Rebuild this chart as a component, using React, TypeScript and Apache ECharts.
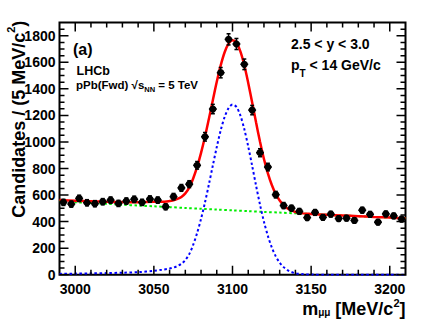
import React, { useEffect, useRef } from 'react';
import * as echarts from 'echarts';

// ---- data ----
const binCenters = [
  2992.5, 2997.5, 3002.5, 3007.5, 3012.5, 3017.5, 3022.5, 3027.5, 3032.5, 3037.5,
  3042.5, 3047.5, 3052.5, 3057.5, 3062.5, 3067.5, 3072.5, 3077.5, 3082.5, 3087.5,
  3092.5, 3097.5, 3102.5, 3107.5, 3112.5, 3117.5, 3122.5, 3127.5, 3132.5, 3137.5,
  3142.5, 3147.5, 3152.5, 3157.5, 3162.5, 3167.5, 3172.5, 3177.5, 3182.5, 3187.5,
  3192.5, 3197.5, 3202.5, 3207.5,
];
const candidates = [
  545, 532, 575, 542, 535, 550, 562, 537, 555, 568,
  545, 570, 562, 512, 588, 654, 682, 824, 1039, 1248,
  1522, 1773, 1738, 1585, 1240, 919, 811, 603, 521, 501,
  477, 430, 469, 432, 456, 423, 426, 409, 486, 455,
  396, 458, 443, 419,
];

const curveMass = [
  2990, 3000, 3010, 3020, 3030, 3040, 3050, 3055, 3060, 3062.5,
  3065, 3067.5, 3070, 3072.5, 3075, 3077.5, 3080, 3082.5, 3085, 3087.5,
  3090, 3092.5, 3095, 3097.5, 3100, 3102.5, 3105, 3107.5, 3110, 3112.5,
  3115, 3117.5, 3120, 3122.5, 3125, 3127.5, 3130, 3132.5, 3135, 3137.5,
  3140, 3145, 3150, 3160, 3170, 3180, 3190, 3200, 3210,
];
const signalCurve = [
  6, 8, 10, 12, 15, 19, 30, 37, 46, 54,
  65, 82, 110, 155, 225, 314, 421, 544, 681, 823,
  962, 1088, 1188, 1255, 1282, 1264, 1200, 1097, 966, 820,
  670, 527, 399, 292, 205, 139, 91, 57, 34, 20,
  11, 3, 1, 0, 0, 0, 0, 0, 0,
];
const totalCurve = [
  562, 558, 554, 550, 547, 546, 549, 549, 555, 561,
  571, 586, 613, 656, 725, 812, 918, 1039, 1175, 1315,
  1453, 1577, 1676, 1741, 1767, 1747, 1682, 1578, 1445, 1298,
  1146, 1002, 872, 764, 676, 608, 559, 523, 499, 484,
  473, 462, 458, 451, 446, 441, 435, 430, 425,
];
const bgMass = [
  2990, 3000, 3010, 3020, 3030, 3040, 3050, 3060, 3070, 3080, 3090, 3100,
  3110, 3120, 3130, 3140, 3150, 3160, 3170, 3180, 3190, 3200, 3210,
];
const bgCurve = [
  553, 546, 540, 534, 527, 521, 515, 509, 503, 497, 491, 485,
  479, 473, 468, 462, 457, 451, 446, 441, 435, 430, 425,
];

const xMajorTicks = [3000, 3050, 3100, 3150, 3200];
const xMinorTicks = [
  3010, 3020, 3030, 3040, 3060, 3070, 3080, 3090,
  3110, 3120, 3130, 3140, 3160, 3170, 3180, 3190,
];
const yMajorTicks = [0, 200, 400, 600, 800, 1000, 1200, 1400, 1600, 1800];
const yMinorTicks = [
  50, 100, 150, 250, 300, 350, 450, 500, 550, 650, 700, 750,
  850, 900, 950, 1050, 1100, 1150, 1250, 1300, 1350,
  1450, 1500, 1550, 1650, 1700, 1750, 1850,
];

const X_MIN = 2990;
const X_MAX = 3210;
const Y_MIN = 0;
const Y_MAX = 1900;

const FF = "'Liberation Sans', Arial, Helvetica, sans-serif";

function tok(fs: number, pad: number) {
  return {
    fontSize: fs,
    fontWeight: 'bold',
    fontFamily: FF,
    lineHeight: fs,
    verticalAlign: 'top',
    padding: [pad, 0, 0, 0],
    fill: '#000',
  };
}

function txt(x: number, y: number, text: string, rich: any, align = 'left', rotation = 0) {
  return {
    type: 'text',
    x,
    y,
    rotation,
    silent: true,
    z: 10,
    style: { text, align, verticalAlign: 'top', rich, fill: '#000' },
  };
}

export default function App() {
  const ref = useRef<HTMLDivElement>(null);
  useEffect(() => {
    if (!ref.current) return;
    const chart = echarts.init(ref.current, undefined, { renderer: 'svg' });

    const labelStyle = { color: '#000', fontSize: 14, fontWeight: 'bold', fontFamily: FF };
    const errData = binCenters.map((m, i) => [m, candidates[i], Math.sqrt(candidates[i])]);

    // tick lengths given in pixels, converted to data units of each axis
    const PX_PER_MEV = 346 / (X_MAX - X_MIN);
    const PX_PER_COUNT = 252.2 / (Y_MAX - Y_MIN);
    const xTickSegs: any[] = [];
    const addX = (v: number, lenPx: number) => {
      const h = lenPx / PX_PER_COUNT;
      xTickSegs.push([v, Y_MIN], [v, Y_MIN + h], [v, '-'], [v, Y_MAX], [v, Y_MAX - h], [v, '-']);
    };
    xMajorTicks.forEach((v) => addX(v, 9));
    xMinorTicks.forEach((v) => addX(v, 5));
    const yTickSegs: any[] = [];
    const addY = (v: number, lenPx: number) => {
      const w = lenPx / PX_PER_MEV;
      yTickSegs.push([X_MIN, v], [X_MIN + w, v], ['-', v], [X_MAX, v], [X_MAX - w, v], ['-', v]);
    };
    yMajorTicks.forEach((v) => addY(v, 9));
    yMinorTicks.forEach((v) => addY(v, 5));

    chart.setOption({
      animation: false,
      backgroundColor: '#fff',
      grid: {
        left: 59.5,
        right: 21.5,
        top: 22.5,
        bottom: 45.3,
        show: true,
        borderColor: '#000',
        borderWidth: 2,
        backgroundColor: 'transparent',
        outerBoundsMode: 'none',
      },
      xAxis: {
        type: 'value',
        min: X_MIN,
        max: X_MAX,
        axisLine: { show: false },
        splitLine: { show: false },
        axisTick: { show: false },
        axisLabel: {
          show: true,
          customValues: xMajorTicks,
          margin: 7,
          formatter: (v: number) => String(v),
          ...labelStyle,
        },
      },
      yAxis: {
        type: 'value',
        min: Y_MIN,
        max: Y_MAX,
        axisLine: { show: false },
        splitLine: { show: false },
        axisTick: { show: false },
        axisLabel: {
          show: true,
          customValues: yMajorTicks,
          margin: 4,
          formatter: (v: number) => String(v),
          ...labelStyle,
        },
      },
      series: [
        {
          type: 'line',
          data: xTickSegs,
          symbol: 'none',
          connectNulls: false,
          lineStyle: { color: '#000', width: 1.5 },
          silent: true,
          z: 6,
        },
        {
          type: 'line',
          data: yTickSegs,
          symbol: 'none',
          connectNulls: false,
          lineStyle: { color: '#000', width: 1.5 },
          silent: true,
          z: 6,
        },
        {
          type: 'line',
          data: bgMass.map((m, i) => [m, bgCurve[i]]),
          symbol: 'none',
          smooth: 0.3,
          lineStyle: { color: '#00ee00', width: 2, type: [2.5, 2.5] },
          z: 2,
        },
        {
          type: 'line',
          data: curveMass.map((m, i) => [m, signalCurve[i]]),
          symbol: 'none',
          smooth: 0.3,
          lineStyle: { color: '#0000ff', width: 2, type: [2.5, 2.5] },
          z: 3,
        },
        {
          type: 'line',
          data: curveMass.map((m, i) => [m, totalCurve[i]]),
          symbol: 'none',
          smooth: 0.3,
          lineStyle: { color: '#ff0000', width: 2.5 },
          z: 4,
        },
        {
          type: 'custom',
          data: errData,
          z: 5,
          renderItem: (params: any, api: any) => {
            const x = api.value(0);
            const y = api.value(1);
            const e = api.value(2);
            const c = api.coord([x, y]);
            const t = api.coord([x, y + e]);
            const b = api.coord([x, y - e]);
            const l = api.coord([x - 2.5, y]);
            const r = api.coord([x + 2.5, y]);
            const st = { stroke: '#000', lineWidth: 1.5 };
            return {
              type: 'group',
              children: [
                { type: 'line', shape: { x1: c[0], y1: t[1], x2: c[0], y2: b[1] }, style: st },
                { type: 'line', shape: { x1: c[0] - 2, y1: t[1], x2: c[0] + 2, y2: t[1] }, style: st },
                { type: 'line', shape: { x1: c[0] - 2, y1: b[1], x2: c[0] + 2, y2: b[1] }, style: st },
                { type: 'line', shape: { x1: l[0], y1: c[1], x2: r[0], y2: c[1] }, style: st },
                { type: 'circle', shape: { cx: c[0], cy: c[1], r: 3.6 }, style: { fill: '#000' } },
              ],
            };
          },
        },
      ],
      graphic: [
        txt(5.8, 20.7, '{m|Candidates / (5 MeV/c}{s|2}{m|)}', { m: tok(18, 4), s: tok(11, 0) }, 'right', Math.PI / 2),
        txt(405.5, 295.8, '{m|m}{b|μμ}{m| [MeV/c}{s|2}{m|]}', { m: tok(18, 4), b: tok(10, 12), s: tok(11, 1.6) }, 'right'),
        txt(73, 41.8, '{m|(a)}', { m: tok(16, 0) }),
        txt(76.5, 64.4, '{m|LHCb}', { m: tok(12.5, 0) }),
        txt(76, 78.6, '{m|pPb(Fwd) √s}{b|NN}{m| = 5 TeV}', { m: tok(11.5, 0), b: tok(7.5, 6.7) }),
        txt(291, 36.5, '{m|2.5 < y < 3.0}', { m: tok(14, 0) }),
        txt(291, 58.2, '{m|p}{b|T}{m| < 14 GeV/c}', { m: tok(14, 0), b: tok(10, 10.7) }),
      ],
    });
    return () => chart.dispose();
  }, []);
  return (
    <div
      ref={ref}
      style={{ position: 'fixed', left: 0, top: 0, width: 427, height: 320, background: '#fff' }}
    />
  );
}
